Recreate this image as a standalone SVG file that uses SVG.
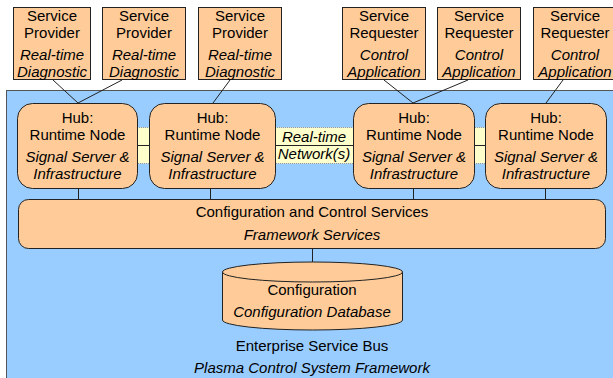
<svg xmlns="http://www.w3.org/2000/svg" width="613" height="378" viewBox="0 0 613 378">
<style>
.t{font-family:"Liberation Sans",Arial,sans-serif;font-size:15px;fill:#000;text-anchor:middle}
.i{font-style:italic}
.box{fill:#ffcc99;stroke:#222;stroke-width:1}
.hub{fill:#ffcc99;stroke:#222;stroke-width:1}
.ln{stroke:#222;stroke-width:1;fill:none}
</style>
<rect id="bus" x="6.5" y="90.5" width="620" height="300" fill="#99ccff" stroke="#555" stroke-width="1"/>
<g id="network">
<rect x="135" y="127.5" width="352" height="36" fill="#ffffcc" stroke="#999" stroke-width="1" stroke-dasharray="1,1"/>
</g>
<g id="connectors">
<line class="ln" x1="137" y1="145.5" x2="485" y2="145.5"/>
<line class="ln" x1="53" y1="80" x2="78" y2="103"/>
<line class="ln" x1="122" y1="80" x2="78" y2="103"/>
<line class="ln" x1="230" y1="80" x2="213" y2="103"/>
<line class="ln" x1="384" y1="80" x2="413" y2="103"/>
<line class="ln" x1="468" y1="80" x2="413" y2="103"/>
<line class="ln" x1="563" y1="80" x2="546" y2="103"/>
<line class="ln" x1="78.5" y1="188" x2="78.5" y2="199"/>
<line class="ln" x1="210.5" y1="188" x2="210.5" y2="199"/>
<line class="ln" x1="413.5" y1="188" x2="413.5" y2="199"/>
<line class="ln" x1="545.5" y1="188" x2="545.5" y2="199"/>
<line class="ln" x1="312.5" y1="248" x2="312.5" y2="262"/>
</g>
<g id="net-label">
<text class="t i" x="314" y="142">Real-time</text>
<text class="t i" x="314" y="159">Network(s)</text>
</g>
<g id="provider1"><rect class="box" x="13.5" y="7.5" width="77" height="72"/>
<text class="t" x="52" y="21">Service</text><text class="t" x="52" y="38">Provider</text>
<text class="t i" x="52" y="60">Real-time</text><text class="t i" x="52" y="77">Diagnostic</text></g>
<g id="provider2"><rect class="box" x="102.5" y="7.5" width="83" height="72"/>
<text class="t" x="144" y="21">Service</text><text class="t" x="144" y="38">Provider</text>
<text class="t i" x="144" y="60">Real-time</text><text class="t i" x="144" y="77">Diagnostic</text></g>
<g id="provider3"><rect class="box" x="198.5" y="7.5" width="83" height="72"/>
<text class="t" x="240" y="21">Service</text><text class="t" x="240" y="38">Provider</text>
<text class="t i" x="240" y="60">Real-time</text><text class="t i" x="240" y="77">Diagnostic</text></g>
<g id="requester1"><rect class="box" x="342.5" y="7.5" width="83" height="72"/>
<text class="t" x="384" y="21">Service</text><text class="t" x="384" y="38">Requester</text>
<text class="t i" x="384" y="60">Control</text><text class="t i" x="384" y="77">Application</text></g>
<g id="requester2"><rect class="box" x="437.5" y="7.5" width="83" height="72"/>
<text class="t" x="479" y="21">Service</text><text class="t" x="479" y="38">Requester</text>
<text class="t i" x="479" y="60">Control</text><text class="t i" x="479" y="77">Application</text></g>
<g id="requester3"><rect class="box" x="533.5" y="7.5" width="84" height="72"/>
<text class="t" x="575" y="21">Service</text><text class="t" x="575" y="38">Requester</text>
<text class="t i" x="575" y="60">Control</text><text class="t i" x="575" y="77">Application</text></g>
<g id="hub1"><rect class="hub" x="17.5" y="103.5" width="120" height="85" rx="15"/>
<text class="t" x="77.5" y="123">Hub:</text><text class="t" x="77.5" y="140">Runtime Node</text>
<text class="t i" x="77.5" y="162">Signal Server &amp;</text><text class="t i" x="77.5" y="179">Infrastructure</text></g>
<g id="hub2"><rect class="hub" x="149.5" y="103.5" width="126" height="85" rx="15"/>
<text class="t" x="212.5" y="123">Hub:</text><text class="t" x="212.5" y="140">Runtime Node</text>
<text class="t i" x="212.5" y="162">Signal Server &amp;</text><text class="t i" x="212.5" y="179">Infrastructure</text></g>
<g id="hub3"><rect class="hub" x="353.5" y="103.5" width="121" height="85" rx="15"/>
<text class="t" x="414" y="123">Hub:</text><text class="t" x="414" y="140">Runtime Node</text>
<text class="t i" x="414" y="162">Signal Server &amp;</text><text class="t i" x="414" y="179">Infrastructure</text></g>
<g id="hub4"><rect class="hub" x="485.5" y="103.5" width="121" height="85" rx="15"/>
<text class="t" x="546" y="123">Hub:</text><text class="t" x="546" y="140">Runtime Node</text>
<text class="t i" x="546" y="162">Signal Server &amp;</text><text class="t i" x="546" y="179">Infrastructure</text></g>
<g id="services"><rect class="hub" x="18.5" y="199.5" width="587" height="49" rx="10"/>
<text class="t" x="312" y="217">Configuration and Control Services</text>
<text class="t i" x="312" y="240">Framework Services</text></g>
<g id="database">
<path class="box" d="M222.5,272 L222.5,320 A90,10 0 0 0 402.5,320 L402.5,272"/>
<ellipse class="box" cx="312.5" cy="272" rx="90" ry="10"/>
<text class="t" x="312" y="295">Configuration</text>
<text class="t i" x="312" y="317">Configuration Database</text></g>
<g id="bus-label">
<text class="t" x="312" y="351">Enterprise Service Bus</text>
<text class="t i" x="312" y="373">Plasma Control System Framework</text></g>
</svg>
